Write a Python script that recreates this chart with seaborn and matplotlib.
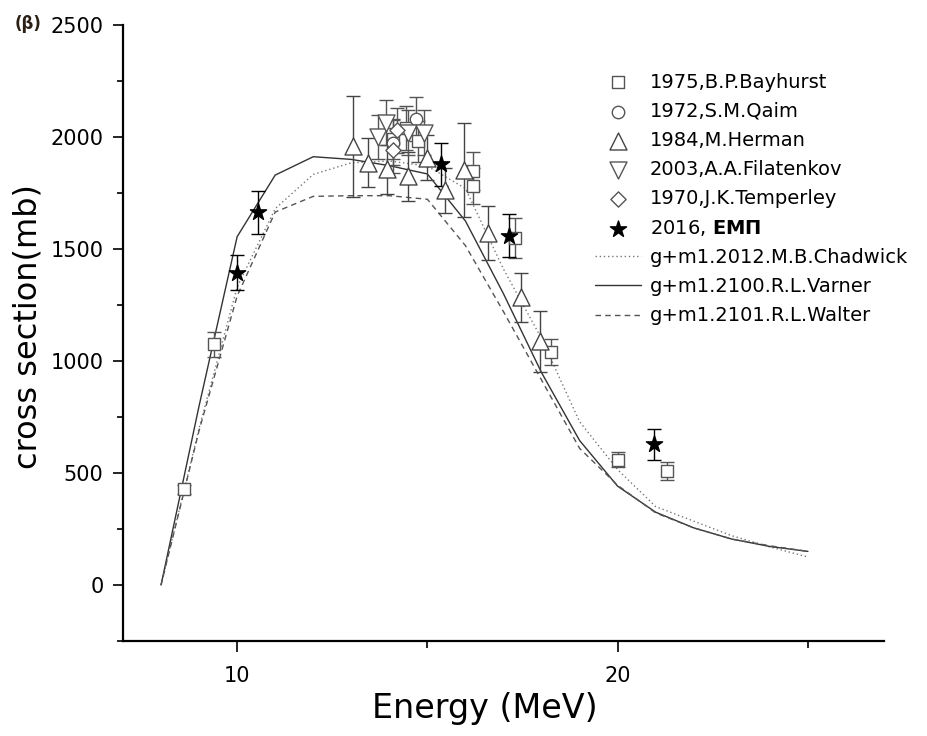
import numpy as np
import pandas as pd
import matplotlib
matplotlib.use("Agg")
import matplotlib.pyplot as plt
from matplotlib.ticker import MultipleLocator
import seaborn as sns

# ---------------- data ----------------
bay_x = [8.6, 9.4, 14.1, 14.45, 14.75, 16.2, 16.2, 17.3, 18.25, 20.0, 21.3]
bay_y = [427, 1074, 1990, 2040, 1980, 1850, 1780, 1550, 1040, 560, 508]
bay_e = [20, 55, 90, 100, 90, 85, 80, 90, 60, 35, 40]

qaim_x = [14.1, 14.7]
qaim_y = [1975, 2080]
qaim_e = [100, 100]

her_x = [13.05, 13.45, 13.95, 14.5, 15.0, 15.45, 15.95, 16.6, 17.45, 17.95]
her_y = [1958, 1886, 1855, 1825, 1908, 1762, 1851, 1570, 1284, 1088]
her_e = [225, 110, 110, 110, 100, 100, 210, 120, 110, 135]

fil_x = [13.7, 13.9, 14.5, 14.9]
fil_y = [2000, 2064, 2020, 2020]
fil_e = [100, 100, 100, 100]

tem_x = [14.1, 14.2]
tem_y = [1940, 2030]
tem_e = [100, 100]

emp_x = [10.0, 10.55, 15.35, 17.15, 20.95]
emp_y = [1395, 1663, 1878, 1560, 628]
emp_e = [80, 95, 95, 95, 70]

energy = [8, 9, 10, 11, 12, 13, 14, 15, 16, 17, 18, 19, 20, 21, 22, 23, 24, 25]
chadwick = [0, 700, 1330, 1680, 1833, 1885, 1893, 1870, 1770, 1410, 1100, 729, 515, 350, 285, 220, 170, 125]
varner = [0, 800, 1555, 1830, 1912, 1900, 1872, 1835, 1625, 1300, 948, 645, 441, 325, 255, 205, 172, 150]
walter = [0, 690, 1290, 1665, 1735, 1738, 1738, 1722, 1515, 1220, 915, 610, 445, 322, 255, 205, 175, 150]

# ---------------- figure ----------------
sns.set_style("ticks")
plt.rcParams['font.family'] = ['DejaVu Sans']
plt.rcParams['text.color'] = 'black'
plt.rcParams['axes.labelcolor'] = 'black'
plt.rcParams['xtick.color'] = 'black'
plt.rcParams['ytick.color'] = 'black'

fig = plt.figure(figsize=(9.27, 7.36), dpi=100)
ax = fig.add_axes([123/927, 1-641/736, (884-123)/927, (641-25)/736])

series = [
    (bay_x, bay_y, bay_e, 's', 70, '#555555', 'white', "1975,B.P.Bayhurst"),
    (qaim_x, qaim_y, qaim_e, 'o', 80, '#555555', 'white', "1972,S.M.Qaim"),
    (her_x, her_y, her_e, '^', 150, '#444444', 'white', "1984,M.Herman"),
    (fil_x, fil_y, fil_e, 'v', 150, '#555555', 'white', "2003,A.A.Filatenkov"),
    (tem_x, tem_y, tem_e, 'D', 60, '#555555', 'white', "1970,J.K.Temperley"),
    (emp_x, emp_y, emp_e, '*', 150, 'black', 'black', "2016, $\\mathbf{ΕΜΠ}$"),
]

for xs, ys, es, m, s, ec, fc, lab in series:
    ax.errorbar(xs, ys, yerr=es, fmt='none', ecolor=ec, elinewidth=1.0,
                capsize=5, capthick=1.0, zorder=2)

lines = [
    (chadwick, (0, (1, 2)), '#777777', "g+m1.2012.M.B.Chadwick"),
    (varner, '-', '#333333', "g+m1.2100.R.L.Varner"),
    (walter, (0, (4, 3)), '#555555', "g+m1.2101.R.L.Walter"),
]
for vals, ls, col, lab in lines:
    df = pd.DataFrame({"E": energy, "xs": vals})
    sns.lineplot(data=df, x="E", y="xs", ax=ax, color=col, linestyle=ls,
                 linewidth=1.0, label=lab, errorbar=None, zorder=1)

for xs, ys, es, m, s, ec, fc, lab in series:
    df = pd.DataFrame({"E": xs, "xs": ys})
    sns.scatterplot(data=df, x="E", y="xs", ax=ax, marker=m, s=s,
                    facecolor=fc, edgecolor=ec, linewidth=1.0, label=lab, zorder=3)

ax.set_xlim(7, 27)
ax.set_ylim(-250, 2500)
ax.xaxis.set_major_locator(MultipleLocator(10))
ax.xaxis.set_minor_locator(MultipleLocator(5))
ax.yaxis.set_major_locator(MultipleLocator(500))
ax.yaxis.set_minor_locator(MultipleLocator(250))
ax.tick_params(axis='both', which='major', labelsize=15, width=1.2,
               color='black', labelcolor='black')
ax.tick_params(axis='y', which='major', length=7, pad=7)
ax.tick_params(axis='x', which='major', length=8, pad=10)
ax.tick_params(axis='y', which='minor', length=4, width=1.2, color='black')
ax.tick_params(axis='x', which='minor', length=5, width=1.2, color='black')
sns.despine(ax=ax)
for sp in ['left', 'bottom']:
    ax.spines[sp].set_linewidth(1.6)
    ax.spines[sp].set_color('black')

ax.set_xlabel("Energy (MeV)", fontsize=24, color='black')
ax.set_ylabel("cross section(mb)", fontsize=23, color='black')
ax.xaxis.set_label_coords((485-123)/761, (641-692)/616)
ax.yaxis.set_label_coords((44-123)/761, (641-327)/616)

handles, labels = ax.get_legend_handles_labels()
order = [labels.index(s[7]) for s in series] + [labels.index(l[3]) for l in lines]
leg = ax.legend([handles[i] for i in order], [labels[i] for i in order],
                loc='upper left', bbox_to_anchor=(577/927, 1-55/736),
                bbox_transform=fig.transFigure, frameon=False, fontsize=14,
                handlelength=2.4, handletextpad=0.45, labelspacing=0.52,
                borderpad=0.4)
for t in leg.get_texts():
    t.set_color('black')

fig.text(15/927, 1-24/736, "(β)", fontsize=12, fontweight='bold',
         color='#2a2015', va='center', ha='left')

fig.savefig("out.png", dpi=100)
